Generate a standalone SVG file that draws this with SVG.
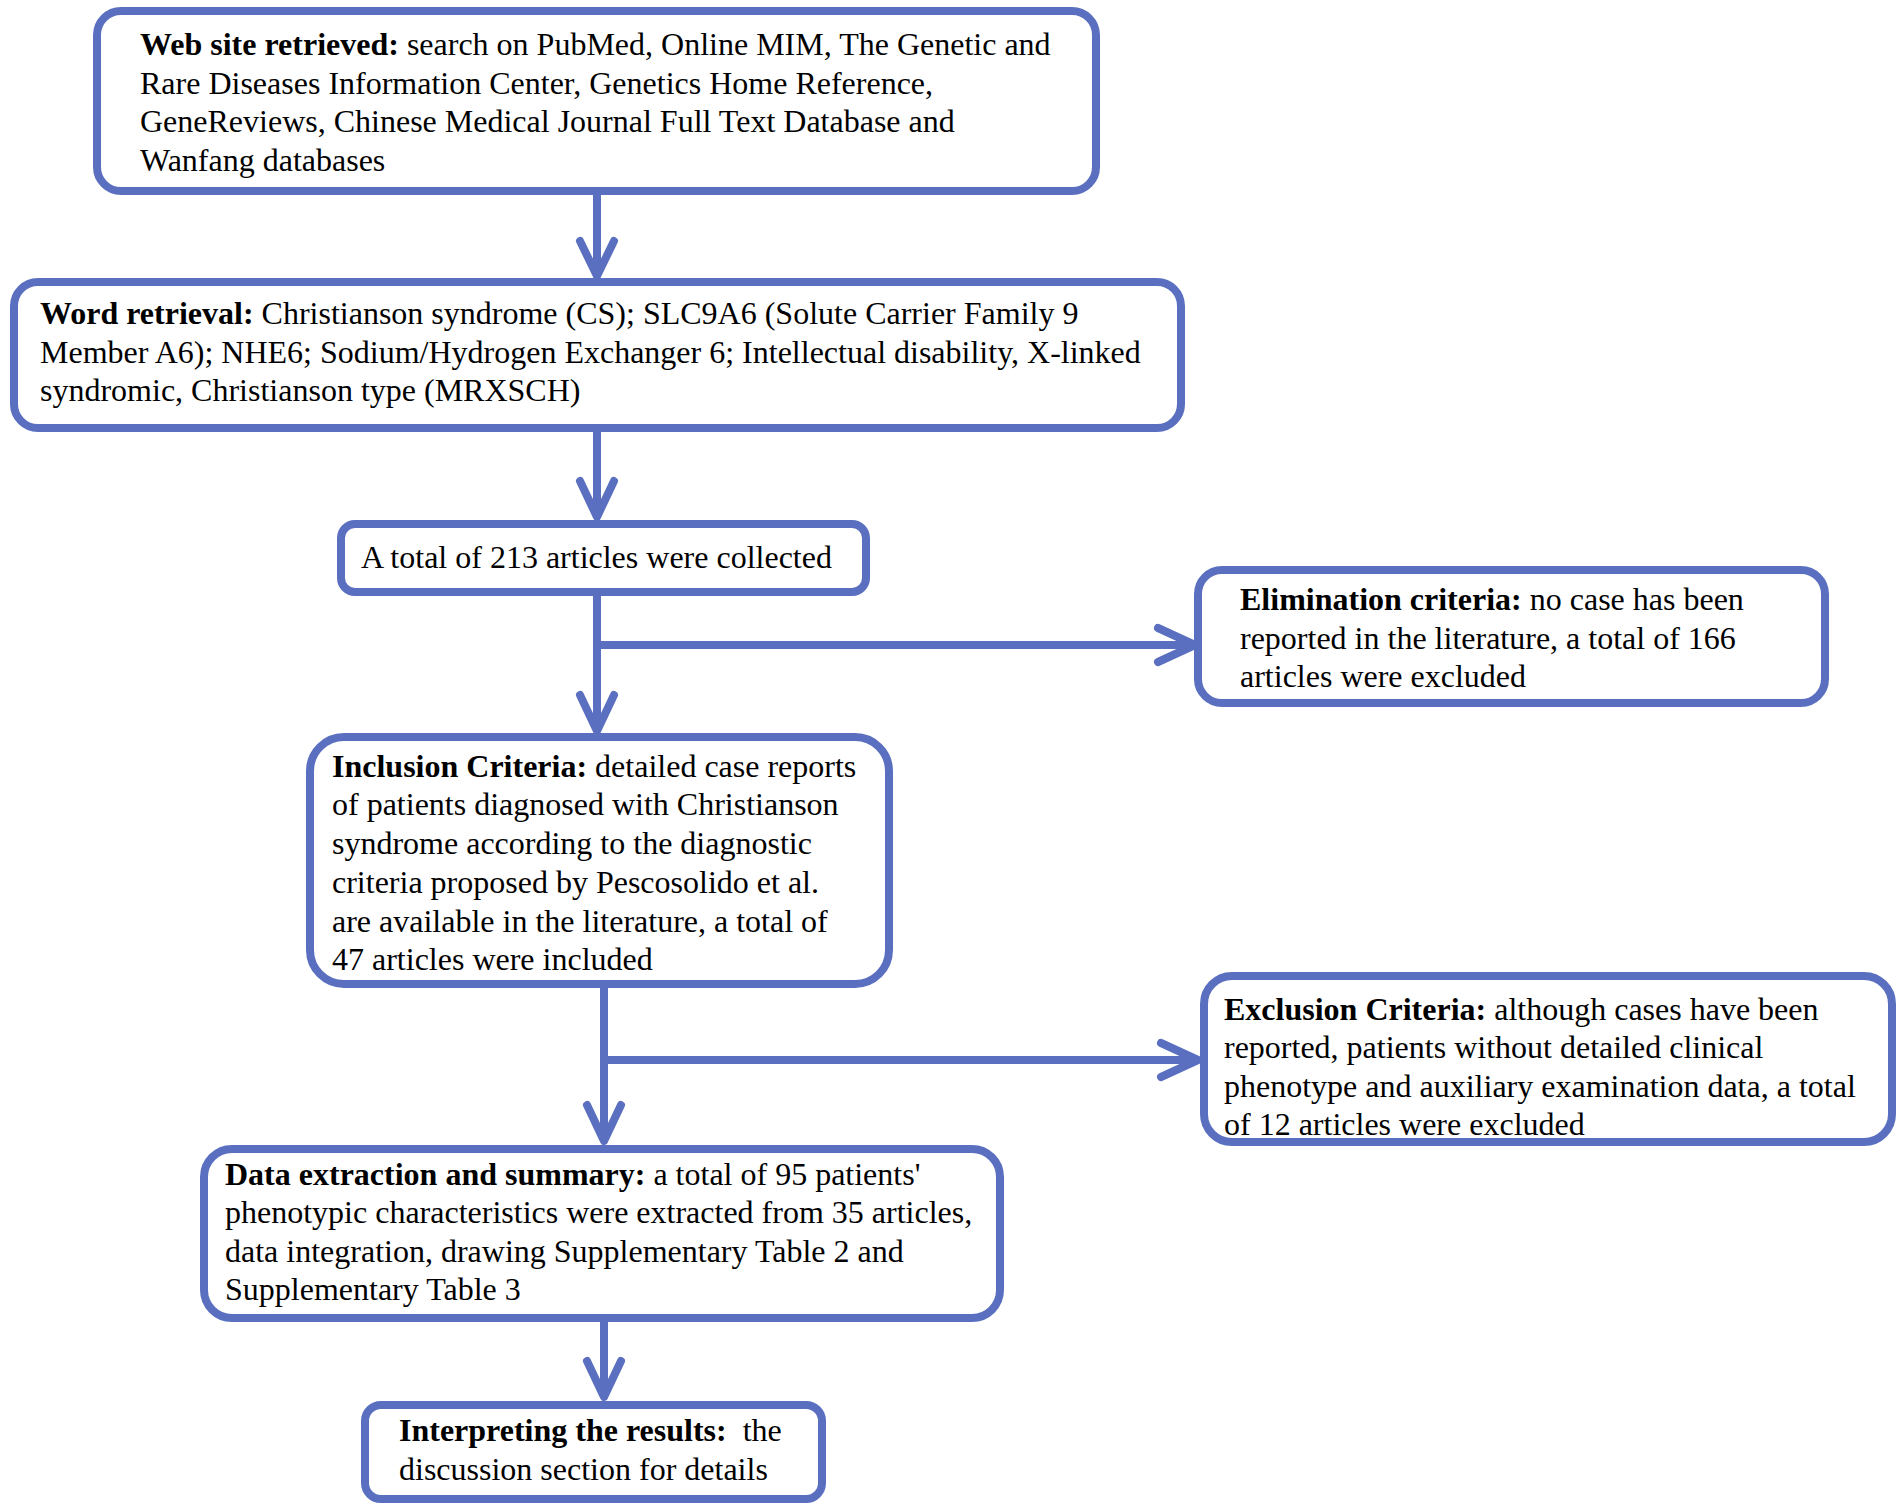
<svg xmlns="http://www.w3.org/2000/svg" width="1902" height="1510" viewBox="0 0 1902 1510">
<style>
.box{fill:#ffffff;stroke:#5a6fbf;stroke-width:8}
.ln{fill:none;stroke:#5a6fbf;stroke-width:8;stroke-linecap:round;stroke-linejoin:round}
text{font-family:"Liberation Serif","Times New Roman",serif;font-size:32px;fill:#000}
.b{font-weight:bold}
</style>
<rect x="0" y="0" width="1902" height="1510" fill="#ffffff"/>
<g id="connectors">
<path class="ln" d="M597 193 V275 M580 241 L597 276 L614 241"/>
<path class="ln" d="M597 430 V516 M580 481 L597 517 L614 481"/>
<path class="ln" d="M597 594 V730 M580 695 L597 731 L614 695"/>
<path class="ln" d="M597 645 H1194 M1158 628 L1195 645 L1158 662"/>
<path class="ln" d="M604 986 V1140 M587 1105 L604 1141 L621 1105"/>
<path class="ln" d="M604 1060 H1197 M1161 1043 L1198 1060 L1161 1077"/>
<path class="ln" d="M604 1320 V1396 M587 1361 L604 1397 L621 1361"/>
</g>
<g id="n1">
<rect class="box" x="97" y="11" width="999" height="180" rx="24"/>
<text x="140" y="55"><tspan class="b">Web site retrieved:</tspan> search on PubMed, Online MIM, The Genetic and</text>
<text x="140" y="94">Rare Diseases Information Center, Genetics Home Reference,</text>
<text x="140" y="132">GeneReviews, Chinese Medical Journal Full Text Database and</text>
<text x="140" y="171">Wanfang databases</text>
</g>
<g id="n2">
<rect class="box" x="14" y="282" width="1167" height="146" rx="24"/>
<text x="40" y="324"><tspan class="b">Word retrieval:</tspan> Christianson syndrome (CS); SLC9A6 (Solute Carrier Family 9</text>
<text x="40" y="363">Member A6); NHE6; Sodium/Hydrogen Exchanger 6; Intellectual disability, X-linked</text>
<text x="40" y="401">syndromic, Christianson type (MRXSCH)</text>
</g>
<g id="n3">
<rect class="box" x="341" y="524" width="525" height="68" rx="14"/>
<text x="361" y="568">A total of 213 articles were collected</text>
</g>
<g id="n4">
<rect class="box" x="1198" y="570" width="627" height="133" rx="24"/>
<text x="1240" y="610"><tspan class="b">Elimination criteria:</tspan> no case has been</text>
<text x="1240" y="649">reported in the literature, a total of 166</text>
<text x="1240" y="687">articles were excluded</text>
</g>
<g id="n5">
<rect class="box" x="310" y="737" width="579" height="247" rx="34"/>
<text x="332" y="777"><tspan class="b">Inclusion Criteria:</tspan> detailed case reports</text>
<text x="332" y="815">of patients diagnosed with Christianson</text>
<text x="332" y="854">syndrome according to the diagnostic</text>
<text x="332" y="893">criteria proposed by Pescosolido et al.</text>
<text x="332" y="932">are available in the literature, a total of</text>
<text x="332" y="970">47 articles were included</text>
</g>
<g id="n6">
<rect class="box" x="1204" y="976" width="688" height="166" rx="28"/>
<text x="1224" y="1020"><tspan class="b">Exclusion Criteria:</tspan> although cases have been</text>
<text x="1224" y="1058">reported, patients without detailed clinical</text>
<text x="1224" y="1097">phenotype and auxiliary examination data, a total</text>
<text x="1224" y="1135">of 12 articles were excluded</text>
</g>
<g id="n7">
<rect class="box" x="204" y="1149" width="796" height="169" rx="28"/>
<text x="225" y="1185"><tspan class="b">Data extraction and summary:</tspan> a total of 95 patients'</text>
<text x="225" y="1223">phenotypic characteristics were extracted from 35 articles,</text>
<text x="225" y="1262">data integration, drawing Supplementary Table 2 and</text>
<text x="225" y="1300">Supplementary Table 3</text>
</g>
<g id="n8">
<rect class="box" x="365" y="1405" width="457" height="94" rx="16"/>
<text x="399" y="1441"><tspan class="b">Interpreting the results:</tspan><tspan dx="16">the</tspan></text>
<text x="399" y="1480">discussion section for details</text>
</g>
</svg>
